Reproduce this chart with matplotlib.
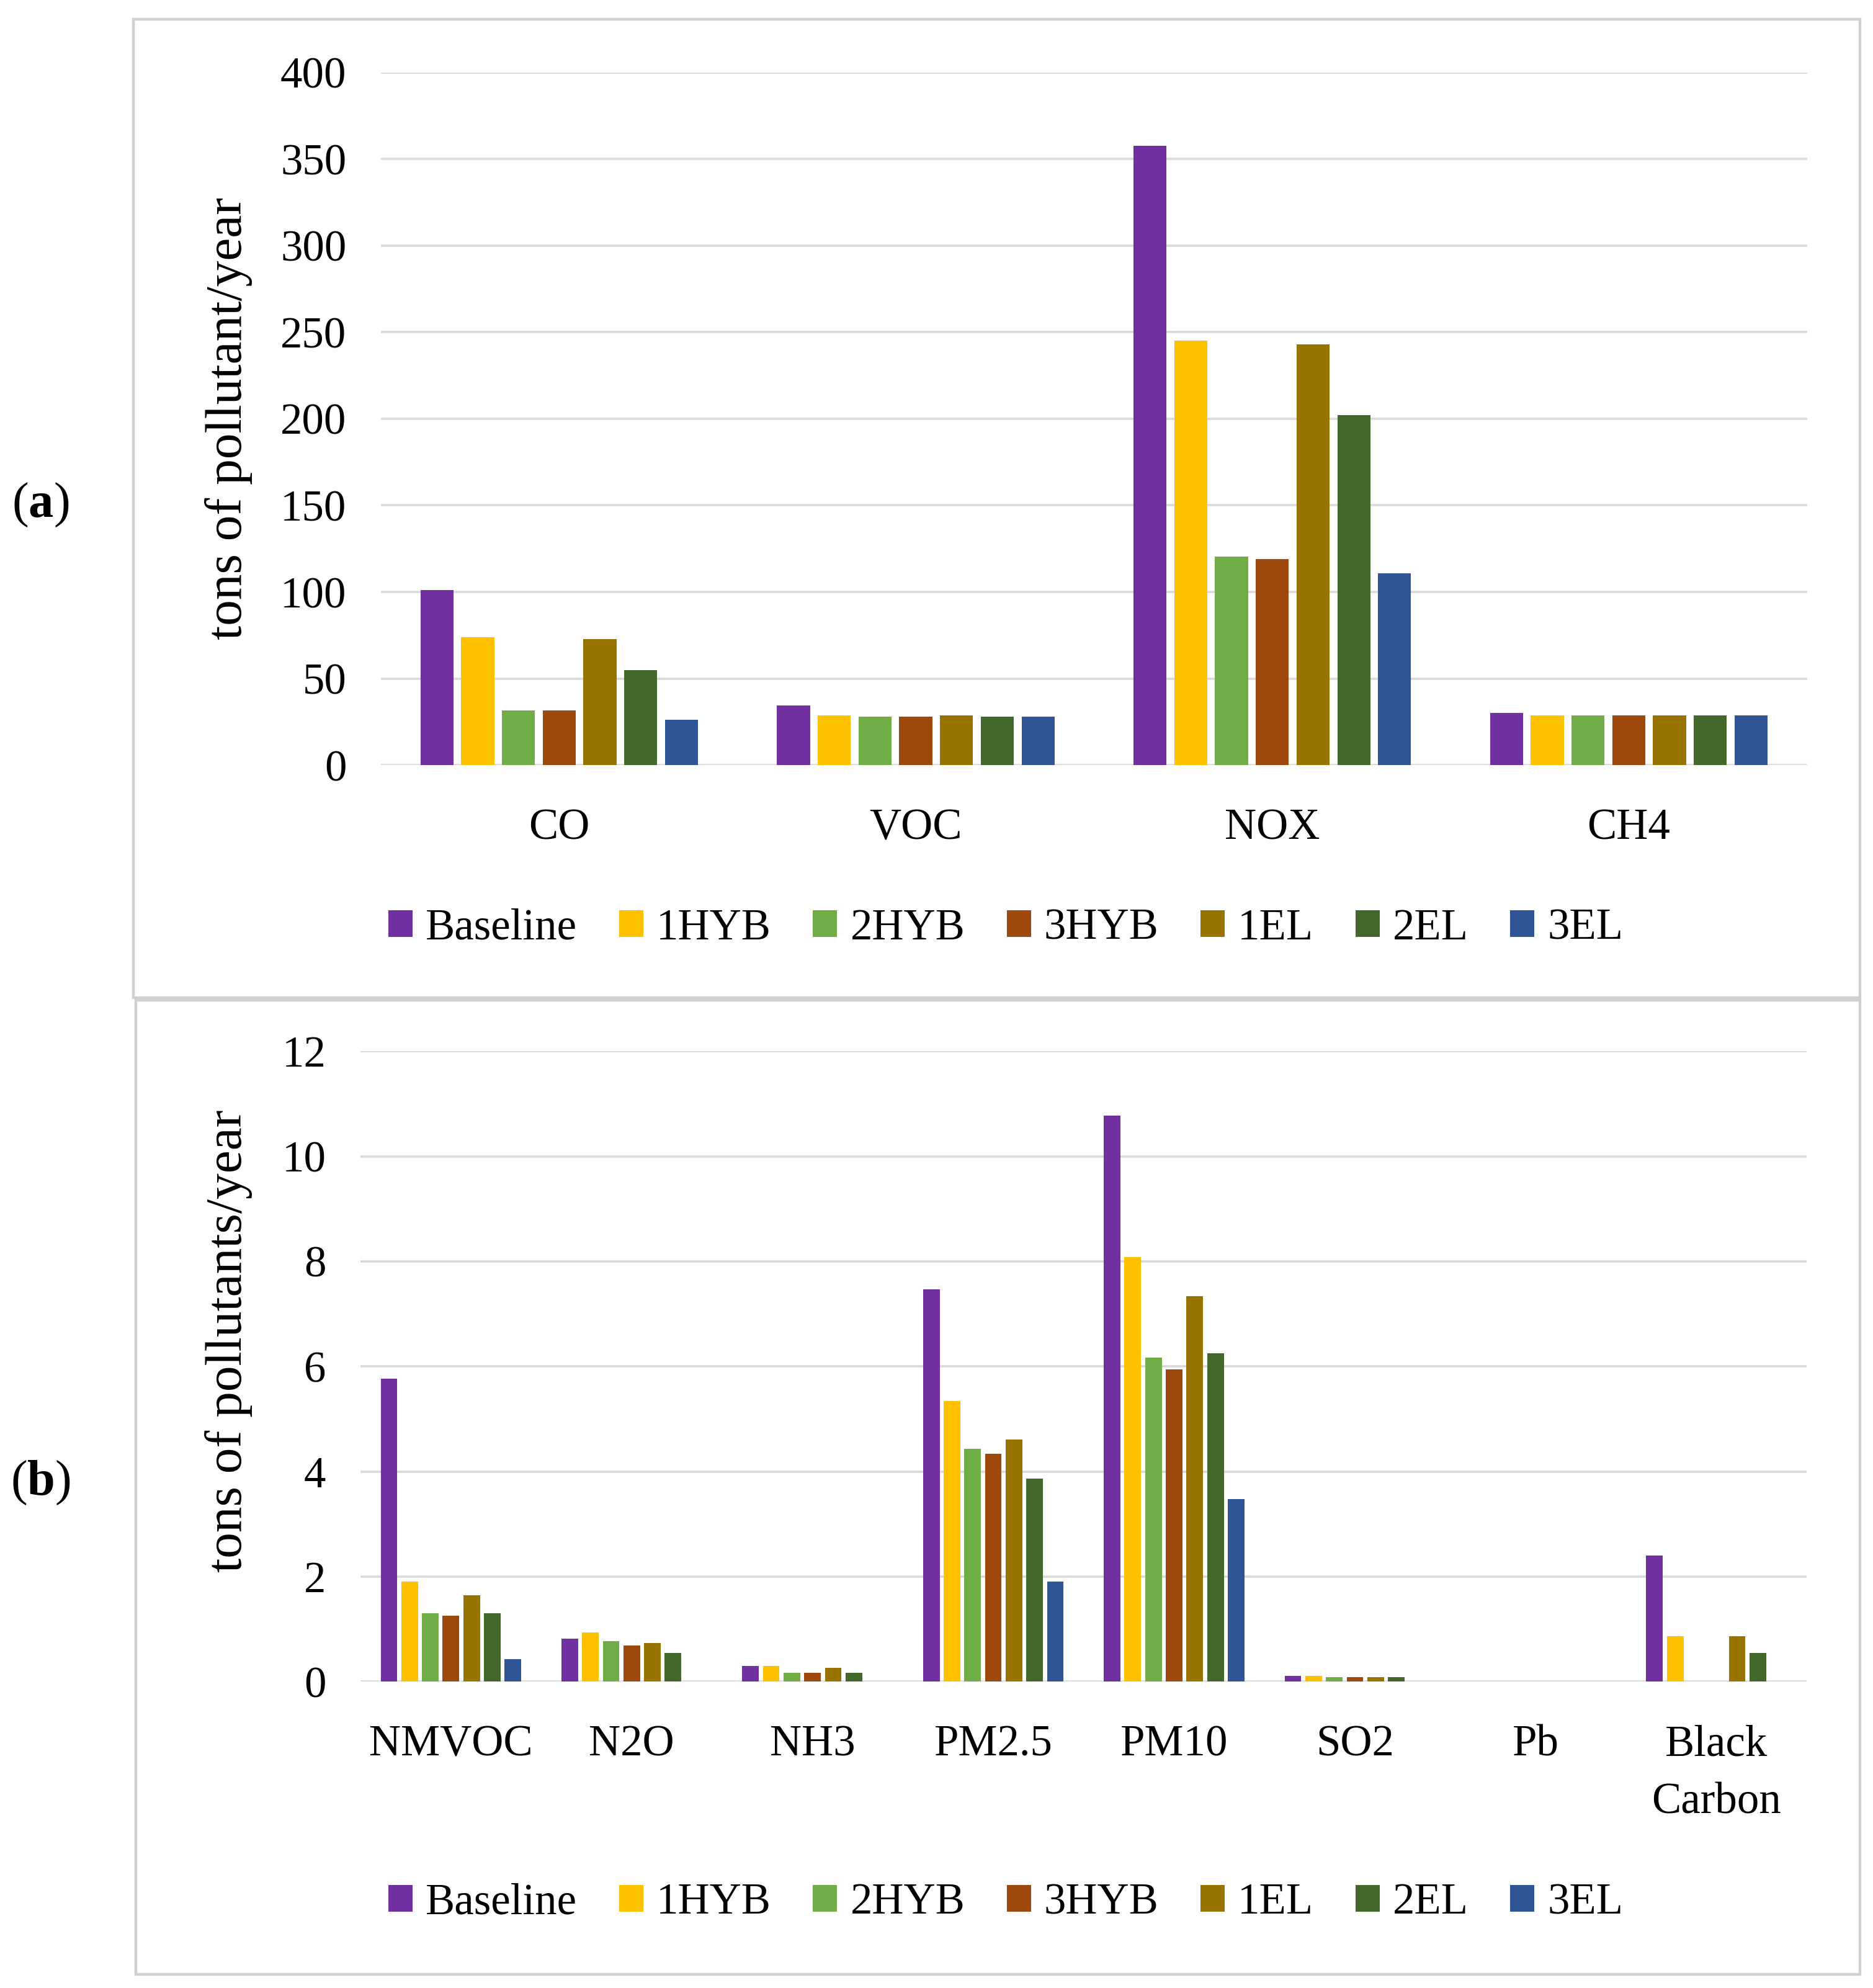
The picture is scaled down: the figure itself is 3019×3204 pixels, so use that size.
import numpy as np
import matplotlib
matplotlib.use("Agg")
import matplotlib.pyplot as plt
from matplotlib.patches import Patch, Rectangle

plt.rcParams['font.family'] = ['Liberation Serif', 'DejaVu Serif']
plt.rcParams['mathtext.fontset'] = 'custom'
plt.rcParams['mathtext.bf'] = 'Liberation Serif:bold'

scenarios = ["Baseline", "1HYB", "2HYB", "3HYB", "1EL", "2EL", "3EL"]
colors = ["#7030A0", "#FFC000", "#70AD47", "#9E480E", "#997300", "#43682B", "#2F5597"]

# panel (a)
cats_a = ["CO", "VOC", "NOX", "CH4"]
vals_a = {
    "Baseline": [101, 34.5, 357.5, 30],
    "1HYB": [74, 28.6, 245, 28.6],
    "2HYB": [31.5, 27.9, 120.4, 28.6],
    "3HYB": [31.5, 27.9, 119, 28.6],
    "1EL": [72.7, 28.6, 243, 28.6],
    "2EL": [55, 27.9, 202, 28.6],
    "3EL": [26.4, 27.9, 110.8, 28.6],
}

# panel (b)
cats_b = ["NMVOC", "N2O", "NH3", "PM2.5", "PM10", "SO2", "Pb", "Black\nCarbon"]
vals_b = {
    "Baseline": [5.77, 0.82, 0.30, 7.47, 10.77, 0.11, 0, 2.40],
    "1HYB": [1.90, 0.94, 0.30, 5.34, 8.08, 0.11, 0, 0.86],
    "2HYB": [1.30, 0.77, 0.17, 4.43, 6.17, 0.08, 0, 0],
    "3HYB": [1.25, 0.69, 0.17, 4.34, 5.95, 0.08, 0, 0],
    "1EL": [1.64, 0.73, 0.26, 4.61, 7.34, 0.08, 0, 0.86],
    "2EL": [1.30, 0.55, 0.17, 3.86, 6.25, 0.08, 0, 0.55],
    "3EL": [0.43, 0, 0, 1.91, 3.47, 0, 0, 0],
}

FS = 25.5
FS_LAB = 30
GRID = "#D9D9D9"


def bars(ax, cats, vals, width):
    x = np.arange(len(cats))
    slot = 0.8 / len(scenarios)
    for i, s in enumerate(scenarios):
        ax.bar(x - 0.4 + slot * (i + 0.5), vals[s], width=width,
               color=colors[i], linewidth=0, zorder=3)
    ax.set_xlim(-0.5, len(cats) - 0.5)
    ax.set_xticks(x)
    ax.set_xticklabels(cats, fontsize=FS, linespacing=1.55)
    ax.tick_params(axis="both", length=0, labelsize=FS, colors="black")
    ax.tick_params(axis="x", pad=25)
    ax.tick_params(axis="y", pad=20)
    ax.yaxis.grid(True, color=GRID, linewidth=1.3, zorder=0)
    for sp in ax.spines.values():
        sp.set_visible(False)


fig = plt.figure(figsize=(15.095, 16.02), dpi=200)

ax1 = fig.add_axes([0.2034, 0.6151, 0.7614, 0.3485])
bars(ax1, cats_a, vals_a, 0.0925)
ax1.set_ylim(0, 400)
ax1.set_yticks(np.arange(0, 401, 50))
ax1.set_ylabel("tons of pollutant/year", fontsize=FS_LAB)
ax1.yaxis.label.set_verticalalignment("center")
ax1.yaxis.set_label_coords(-0.107, 0.5)

ax2 = fig.add_axes([0.1925, 0.1541, 0.7722, 0.3171])
bars(ax2, cats_b, vals_b, 0.092)
ax2.set_ylim(0, 12)
ax2.set_yticks(np.arange(0, 13, 2))
ax2.set_ylabel("tons of pollutants/year", fontsize=FS_LAB)
ax2.yaxis.label.set_verticalalignment("center")
ax2.yaxis.set_label_coords(-0.0913, 0.54)

handles = [Patch(facecolor=c, edgecolor="none") for c in colors]
for yy in [0.533, 0.0428]:
    fig.legend(handles, scenarios, loc="center", bbox_to_anchor=(0.537, yy),
               ncol=7, frameon=False, fontsize=FS, handlelength=0.55,
               handleheight=0.55, handletextpad=0.3, columnspacing=0.95)

# panel frames
fig.patches.append(Rectangle((0.0712, 0.498), 0.922, 0.4924, transform=fig.transFigure,
                             fill=False, edgecolor="#D0D0D0", linewidth=1.6))
fig.patches.append(Rectangle((0.0725, 0.007), 0.9207, 0.4898, transform=fig.transFigure,
                             fill=False, edgecolor="#D0D0D0", linewidth=1.6))

fig.text(0.0217, 0.746, r"($\mathbf{a}$)", fontsize=29, ha="center", va="center")
fig.text(0.0217, 0.254, r"($\mathbf{b}$)", fontsize=29, ha="center", va="center")

fig.savefig("out.png", dpi=200, facecolor="white")
